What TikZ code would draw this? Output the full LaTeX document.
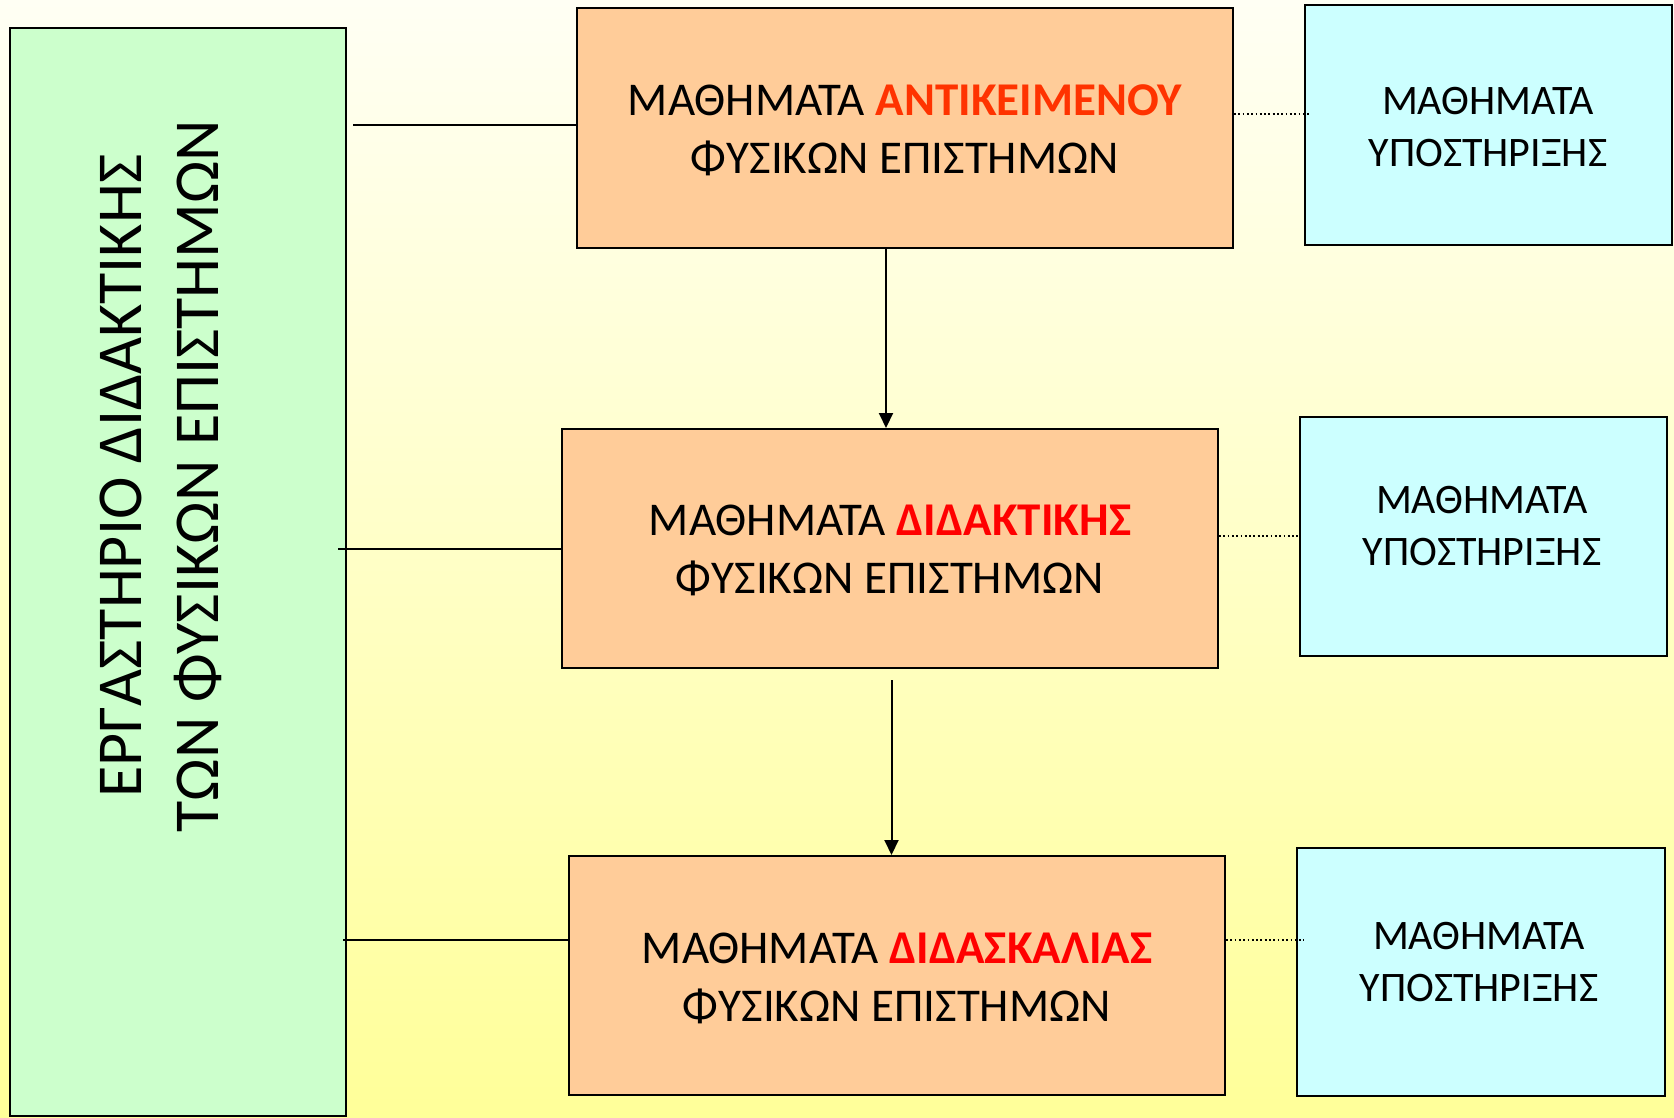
\documentclass[tikz,border=0pt]{standalone}
\usepackage{fontspec}
\setmainfont{Carlito}
\usetikzlibrary{arrows.meta}
\definecolor{bgtop}{HTML}{FFFFF4}
\definecolor{bgbot}{HTML}{FFFF99}
\definecolor{orangebox}{HTML}{FFCC99}
\definecolor{cyanbox}{HTML}{CCFFFF}
\definecolor{greenbox}{HTML}{CCFFCC}
\definecolor{redA}{HTML}{FF3300}
\definecolor{redB}{HTML}{FF0000}
\begin{document}
\begin{tikzpicture}[x=1pt,y=-1pt,
  boxbase/.style={draw=black, line width=2pt, inner sep=0pt},
  orangenode/.style={boxbase, fill=orangebox, minimum width=656pt, minimum height=239pt},
  cyannode/.style={boxbase, fill=cyanbox, minimum width=367pt, minimum height=240pt},
  orangetext/.style={inner sep=0pt, align=center, font=\fontsize{47}{58}\selectfont},
  cyantext/.style={inner sep=0pt, align=center, font=\fontsize{42}{52}\selectfont},
  solidlink/.style={draw=black, line width=2pt},
  dotlink/.style={draw=black, line width=2pt, dash pattern=on 1.8pt off 2.5pt},
  arrowlink/.style={draw=black, line width=2pt, -{Triangle[length=15pt,width=14pt]}},
  greentext/.style={rotate=90, align=center, font=\fontsize{64}{77}\selectfont}
]
\useasboundingbox (0,0) rectangle (1674,1117);
\shade[top color=bgtop, bottom color=bgbot] (0,0) rectangle (1674,1117);

% green box
\node[boxbase, fill=greenbox, minimum width=336pt, minimum height=1088pt] (g) at (178,572) {};
\node[greentext] (gt) at (161,476) {ΕΡΓΑΣΤΗΡΙΟ ΔΙΔΑΚΤΙΚΗΣ\\ΤΩΝ ΦΥΣΙΚΩΝ ΕΠΙΣΤΗΜΩΝ};

% orange boxes
\node[orangenode, minimum height=240pt] (o1) at (905,128) {};
\node[orangetext] (o1t) at (905,130)
  {ΜΑΘΗΜΑΤΑ \textcolor{redA}{\bfseries ΑΝΤΙΚΕΙΜΕΝΟΥ}\\ΦΥΣΙΚΩΝ ΕΠΙΣΤΗΜΩΝ};
\node[orangenode] (o2) at (890,548.5) {};
\node[orangetext] (o2t) at (890,550.5)
  {ΜΑΘΗΜΑΤΑ \textcolor{redB}{\bfseries ΔΙΔΑΚΤΙΚΗΣ}\\ΦΥΣΙΚΩΝ ΕΠΙΣΤΗΜΩΝ};
\node[orangenode] (o3) at (897,975.5) {};
\node[orangetext] (o3t) at (897,978)
  {ΜΑΘΗΜΑΤΑ \textcolor{redB}{\bfseries ΔΙΔΑΣΚΑΛΙΑΣ}\\ΦΥΣΙΚΩΝ ΕΠΙΣΤΗΜΩΝ};

% cyan boxes
\node[cyannode] (c1) at (1488,124.5) {};
\node[cyantext] (c1t) at (1488,127) {ΜΑΘΗΜΑΤΑ\\ΥΠΟΣΤΗΡΙΞΗΣ};
\node[cyannode, minimum height=239pt] (c2) at (1483,536) {};
\node[cyantext] (c2t) at (1482,526) {ΜΑΘΗΜΑΤΑ\\ΥΠΟΣΤΗΡΙΞΗΣ};
\node[cyannode, minimum width=368pt, minimum height=248pt] (c3) at (1481,972) {};
\node[cyantext] (c3t) at (1479,962) {ΜΑΘΗΜΑΤΑ\\ΥΠΟΣΤΗΡΙΞΗΣ};

% free ends of the links from the green box
\coordinate (l1) at (353,125);
\coordinate (l2) at (338,549);
\coordinate (l3) at (343,940);
\draw[solidlink] (l1) -- (o1.west |- l1);
\draw[solidlink] (l2) -- (o2.west |- l2);
\draw[solidlink] (l3) -- (o3.west |- l3);

% dotted links
\coordinate (d1) at (1311,114);
\coordinate (d2) at (1299,536);
\coordinate (d3) at (1304,939.5);
\draw[dotlink] (o1.east |- d1) -- (d1);
\draw[dotlink] (o2.east |- d2) -- (c2.west |- d2);
\draw[dotlink] (o3.east |- d3) -- (d3);

% arrows
\coordinate (a1) at (886,0);
\coordinate (a2) at (891.5,680);
\draw[arrowlink] (o1.south -| a1) -- (o2.north -| a1);
\draw[arrowlink] (a2) -- (o3.north -| a2);
\end{tikzpicture}
\end{document}
